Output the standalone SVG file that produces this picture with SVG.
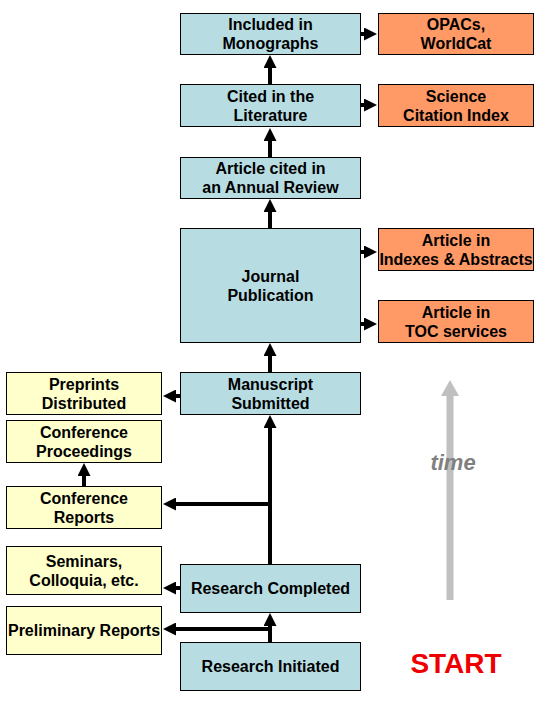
<svg xmlns="http://www.w3.org/2000/svg" width="540" height="720" viewBox="0 0 540 720">
<style>
.b{fill:#b7dde3;stroke:#000;stroke-width:1}
.o{fill:#ff9966;stroke:#000;stroke-width:1}
.y{fill:#ffffcc;stroke:#000;stroke-width:1}
text{font-family:"Liberation Sans",Arial,sans-serif;font-weight:bold;font-size:16px;text-anchor:middle;fill:#000}
.c line{stroke:#000;stroke-width:4;marker-end:url(#ah)}
</style>
<defs>
<marker id="ah" markerUnits="userSpaceOnUse" viewBox="0 0 13 13" markerWidth="13" markerHeight="13" refX="1" refY="6.5" orient="auto">
<path d="M0,0 L13,6.5 L0,13 z" fill="#000"/>
</marker>
<marker id="tah" markerUnits="userSpaceOnUse" viewBox="0 0 16 18" markerWidth="16" markerHeight="18" refX="1" refY="9" orient="auto">
<path d="M0,0 L16,9 L0,18 z" fill="#c0c0c0"/>
</marker>
</defs>
<rect width="540" height="720" fill="#fff"/>
<g class="c" id="connectors">
<line x1="270" y1="642" x2="270" y2="625"/>
<line x1="272" y1="629" x2="175" y2="629"/>
<line x1="180" y1="588" x2="175" y2="588"/>
<line x1="270" y1="564" x2="270" y2="427"/>
<line x1="272" y1="504" x2="175" y2="504"/>
<line x1="84" y1="486" x2="84" y2="475"/>
<line x1="180" y1="396" x2="175" y2="396"/>
<line x1="270" y1="372" x2="270" y2="355"/>
<line x1="361" y1="252" x2="365" y2="252"/>
<line x1="361" y1="324" x2="365" y2="324"/>
<line x1="270" y1="228" x2="270" y2="211"/>
<line x1="270" y1="157" x2="270" y2="140"/>
<line x1="270" y1="84" x2="270" y2="67"/>
<line x1="361" y1="105" x2="365" y2="105"/>
<line x1="361" y1="34" x2="365" y2="34"/>
</g>
<g id="n-included"><rect class="b" x="180.5" y="13.5" width="180" height="41"/><text x="270.5" y="30">Included in</text><text x="270.5" y="49">Monographs</text></g>
<g id="n-opacs"><rect class="o" x="378.5" y="13.5" width="155" height="41"/><text x="456" y="30">OPACs,</text><text x="456" y="49">WorldCat</text></g>
<g id="n-cited"><rect class="b" x="180.5" y="84.5" width="180" height="42"/><text x="270.5" y="101.5">Cited in the</text><text x="270.5" y="120.5">Literature</text></g>
<g id="n-sci"><rect class="o" x="378.5" y="84.5" width="155" height="42"/><text x="456" y="101.5">Science</text><text x="456" y="120.5">Citation Index</text></g>
<g id="n-annual"><rect class="b" x="180.5" y="157.5" width="180" height="41"/><text x="270.5" y="174">Article cited in</text><text x="270.5" y="193">an Annual Review</text></g>
<g id="n-journal"><rect class="b" x="180.5" y="228.5" width="180" height="114"/><text x="270.5" y="281.5">Journal</text><text x="270.5" y="300.5">Publication</text></g>
<g id="n-indexes"><rect class="o" x="378.5" y="228.5" width="155" height="42"/><text x="456" y="245.5">Article in</text><text x="456" y="264.5">Indexes &amp; Abstracts</text></g>
<g id="n-toc"><rect class="o" x="378.5" y="300.5" width="155" height="42"/><text x="456" y="317.5">Article in</text><text x="456" y="336.5">TOC services</text></g>
<g id="n-manuscript"><rect class="b" x="180.5" y="372.5" width="180" height="42"/><text x="270.5" y="389.5">Manuscript</text><text x="270.5" y="408.5">Submitted</text></g>
<g id="n-preprints"><rect class="y" x="6.5" y="372.5" width="155" height="42"/><text x="84" y="389.5">Preprints</text><text x="84" y="408.5">Distributed</text></g>
<g id="n-proceedings"><rect class="y" x="6.5" y="420.5" width="155" height="42"/><text x="84" y="437.5">Conference</text><text x="84" y="456.5">Proceedings</text></g>
<g id="n-reports"><rect class="y" x="6.5" y="486.5" width="155" height="42"/><text x="84" y="503.5">Conference</text><text x="84" y="522.5">Reports</text></g>
<g id="n-seminars"><rect class="y" x="6.5" y="546.5" width="155" height="48"/><text x="84" y="566.5">Seminars,</text><text x="84" y="585.5">Colloquia, etc.</text></g>
<g id="n-completed"><rect class="b" x="180.5" y="564.5" width="180" height="48"/><text x="270.5" y="594">Research Completed</text></g>
<g id="n-preliminary"><rect class="y" x="6.5" y="606.5" width="155" height="48"/><text x="84" y="636">Preliminary Reports</text></g>
<g id="n-initiated"><rect class="b" x="180.5" y="642.5" width="180" height="48"/><text x="270.5" y="672">Research Initiated</text></g>
<g id="time">
<line x1="450" y1="600" x2="450" y2="395" stroke="#c0c0c0" stroke-width="7" marker-end="url(#tah)"/>
<text x="453" y="470" style="font-style:italic;font-size:22px;fill:#808080">time</text>
</g>
<text x="456" y="673" style="font-size:28px;fill:#ee0000">START</text>
</svg>
